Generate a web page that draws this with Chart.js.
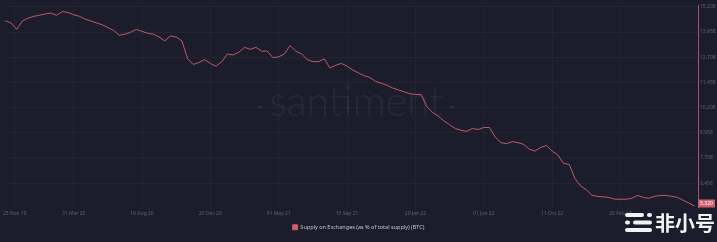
<!DOCTYPE html>
<html>
<head>
<meta charset="utf-8">
<script src="https://cdn.jsdelivr.net/npm/chart.js@4/dist/chart.umd.min.js"></script>
<style>
    html, body { margin: 0; padding: 0; background: #1b1d2c; }
    #wrap { width: 717px; height: 242px; position: relative; }
</style>
</head>
<body>
<div id="wrap"><canvas id="supply"></canvas></div>
<script>
// ─── Data ─────────────────────────────────────────────

const SERIES_LABEL = 'Supply on Exchanges (as % of total supply) (BTC)';

// one sample every 11 days, first sample 5 days before 25 Nov 19
const START_DAY = -5;
const STEP_DAYS = 11;

const supplyPct = [
    14.51, 14.41, 14.09, 14.51, 14.65, 14.74, 14.79, 14.86, 14.90, 14.79,
    14.97, 14.93, 14.81, 14.74, 14.60, 14.51, 14.41, 14.32, 14.18, 14.04,
    13.80, 13.85, 13.95, 14.09, 13.99, 13.90, 13.85, 13.71, 13.52, 13.76,
    13.71, 13.52, 12.63, 12.35, 12.45, 12.59, 12.40, 12.26, 12.49, 12.87,
    12.82, 12.96, 13.20, 13.10, 13.20, 13.01, 13.01, 12.68, 12.73, 12.87,
    13.29, 13.01, 12.87, 12.59, 12.49, 12.49, 12.63, 12.17, 12.31, 12.40,
    12.26, 12.07, 11.93, 11.79, 11.70, 11.51, 11.42, 11.32, 11.18, 11.09,
    10.99, 10.90, 10.86, 10.86, 10.25, 9.97, 9.78, 9.55, 9.36, 9.17,
    9.08, 9.03, 9.17, 9.12, 9.22, 9.22, 8.75, 8.47, 8.42, 8.52,
    8.47, 8.38, 8.14, 8.05, 8.23, 8.33, 8.05, 7.86, 7.44, 7.39,
    6.69, 6.32, 6.13, 5.85, 5.80, 5.78, 5.75, 5.66, 5.66, 5.66,
    5.71, 5.85, 5.75, 5.71, 5.80, 5.85, 5.85, 5.80, 5.75, 5.61,
    5.47, 5.32
];

// x ticks (days after 25 Nov 19) and their labels
const xTickDays   = [13, 127, 259, 391, 523, 655, 787, 919, 1051, 1183];
const xTickLabels = ['25 Nov 19', '31 Mar 20', '10 Aug 20', '20 Dec 20', '01 May 21',
                     '10 Sep 21', '20 Jan 22', '01 Jun 22', '11 Oct 22', '20 Feb 23'];

const yTickValues = [15.208, 13.958, 12.708, 11.458, 10.208, 8.958, 7.708, 6.458];

// ─── Colors ───────────────────────────────────────────

const BG        = '#1b1d2c';
const LINE      = '#d2606c';
const AXIS_LINE = '#a3566a';
const TICK_TXT  = '#5c6274';
const GRID      = 'rgba(255,255,255,0.03)';

// ─── Plugins ──────────────────────────────────────────

const background = {
    id: 'background',
    beforeDraw(chart) {
        const { ctx, width, height } = chart;
        ctx.save();
        ctx.fillStyle = BG;
        ctx.fillRect(0, 0, width, height);
        ctx.restore();
    },
};

const brandWatermark = {
    id: 'brandWatermark',
    beforeDatasetsDraw(chart) {
        const { ctx, chartArea } = chart;
        const cx = (chartArea.left + chartArea.right) / 2;
        ctx.save();
        ctx.fillStyle = 'rgba(255,255,255,0.055)';
        ctx.font = '300 41px Lato, "Open Sans", sans-serif';
        ctx.textAlign = 'center';
        ctx.textBaseline = 'alphabetic';
        ctx.fillText('santiment', cx + 5, 116);
        const w = ctx.measureText('santiment').width;
        ctx.beginPath();
        ctx.arc(cx + 5 - w / 2 - 9, 107, 2, 0, Math.PI * 2);
        ctx.arc(cx + 5 + w / 2 + 9, 107, 2, 0, Math.PI * 2);
        ctx.fill();
        ctx.restore();
    },
};

const lastValueBadge = {
    id: 'lastValueBadge',
    afterDatasetsDraw(chart) {
        const { ctx, chartArea } = chart;
        const meta = chart.getDatasetMeta(0);
        const last = meta.data[meta.data.length - 1];
        if (!last) return;
        const y = Math.min(last.y, chartArea.bottom - 4);
        ctx.save();
        ctx.fillStyle = LINE;
        ctx.fillRect(chartArea.right, y - 4, 17, 8);
        ctx.fillStyle = '#ffffff';
        ctx.font = '5px "Noto Sans", sans-serif';
        ctx.textAlign = 'center';
        ctx.textBaseline = 'middle';
        ctx.fillText(supplyPct[supplyPct.length - 1].toFixed(3), chartArea.right + 8.5, y);
        ctx.restore();
    },
};

const siteStamp = {
    id: 'siteStamp',
    afterDraw(chart) {
        const { ctx } = chart;
        ctx.save();
        ctx.fillStyle = '#f2f2f4';
        const bar = (x, y, w) => {
            ctx.beginPath();
            ctx.roundRect(x, y, w, 4, 2);
            ctx.fill();
        };
        bar(625, 213, 19); bar(647, 213, 5);
        bar(625, 220.5, 5); bar(633, 220.5, 19);
        bar(625, 228, 27);
        ctx.font = 'bold 20px "Noto Sans CJK SC", sans-serif';
        ctx.textAlign = 'left';
        ctx.textBaseline = 'middle';
        ctx.fillText('非小号', 655, 223);
        ctx.restore();
    },
};

// ─── Chart ────────────────────────────────────────────

const points = supplyPct.map((v, i) => ({ x: START_DAY + i * STEP_DAYS, y: v }));

new Chart(document.getElementById('supply').getContext('2d'), {
    type: 'line',
    data: {
        datasets: [{
            label: SERIES_LABEL,
            data: points,
            borderColor: LINE,
            backgroundColor: LINE,
            borderWidth: 0.9,
            pointRadius: 0,
            tension: 0,
        }],
    },
    options: {
        responsive: true,
        maintainAspectRatio: false,
        animation: false,
        layout: { padding: { left: 0, right: 0, top: 0, bottom: 2 } },
        scales: {
            x: {
                type: 'linear',
                min: -6.3,
                max: 1332.7,
                grid: { color: GRID, drawTicks: false },
                border: { display: false },
                afterBuildTicks: axis => { axis.ticks = xTickDays.map(v => ({ value: v })); },
                ticks: {
                    autoSkip: false,
                    maxRotation: 0,
                    padding: 3,
                    color: TICK_TXT,
                    font: { size: 5, family: '"Noto Sans", sans-serif' },
                    callback: v => xTickLabels[xTickDays.indexOf(v)] ?? '',
                },
            },
            y: {
                position: 'right',
                min: 5.25,
                max: 15.3,
                grid: { color: GRID, drawTicks: false },
                border: { display: true, color: AXIS_LINE, width: 1 },
                afterBuildTicks: axis => { axis.ticks = yTickValues.map(v => ({ value: v })); },
                afterFit: axis => { axis.width = 19; },
                ticks: {
                    padding: 2,
                    color: TICK_TXT,
                    font: { size: 5, family: '"Noto Sans", sans-serif' },
                    callback: v => v.toFixed(3),
                },
            },
        },
        plugins: {
            legend: {
                position: 'bottom',
                labels: {
                    color: '#c3c4cc',
                    boxWidth: 5,
                    boxHeight: 5,
                    padding: 5,
                    font: { size: 5.5, family: '"Noto Sans", sans-serif' },
                },
            },
            tooltip: { enabled: false },
        },
    },
    plugins: [background, brandWatermark, lastValueBadge, siteStamp],
});
</script>
</body>
</html>
